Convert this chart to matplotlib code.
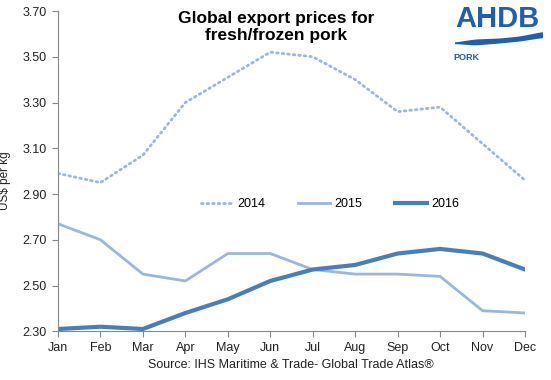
import numpy as np
import matplotlib as mpl
mpl.use('Agg')
from matplotlib import pyplot as plt

months = ["Jan", "Feb", "Mar", "Apr", "May", "Jun",
          "Jul", "Aug", "Sep", "Oct", "Nov", "Dec"]
p2014 = [2.99, 2.95, 3.07, 3.30, 3.41, 3.52, 3.50, 3.40, 3.26, 3.28, 3.12, 2.96]
p2015 = [2.77, 2.70, 2.55, 2.52, 2.64, 2.64, 2.57, 2.55, 2.55, 2.54, 2.39, 2.38]
p2016 = [2.31, 2.32, 2.31, 2.38, 2.44, 2.52, 2.57, 2.59, 2.64, 2.66, 2.64, 2.57]
yticks = [2.30, 2.50, 2.70, 2.90, 3.10, 3.30, 3.50, 3.70]


def main():
    mpl.rc('font', family=['Liberation Sans', 'DejaVu Sans'])

    fig = plt.figure(figsize=(5.51, 3.80), dpi=100)
    ax = fig.add_axes([58 / 551, 1 - 331.3 / 380, 467 / 551, 320.3 / 380])

    x = np.arange(len(months))
    ax.plot(x, p2014, color='#9db7e0', lw=2, linestyle=(0, (0.6, 1.4)),
            dash_capstyle='round', label='2014')
    ax.plot(x, p2015, color='#9bb7dc', lw=2, label='2015')
    ax.plot(x, p2016, color='#4a7ebb', lw=3, label='2016')

    ax.set_xlim(0, 11)
    ax.set_ylim(2.30, 3.70)
    ax.set_xticks(x)
    ax.set_xticklabels(months)
    ax.set_yticks(yticks)
    ax.set_yticklabels(["{:.2f}".format(v) for v in yticks])
    ax.tick_params(labelsize=9, colors='#222222', length=4, width=0.8,
                   color='#888888', pad=4)
    for s in ['top', 'right']:
        ax.spines[s].set_visible(False)
    for s in ['left', 'bottom']:
        ax.spines[s].set_color('#888888')
        ax.spines[s].set_linewidth(0.8)
    ax.set_ylabel("US$ per kg", fontsize=8.5, color='#222222')
    ax.yaxis.set_label_coords(-47 / 467, (331.3 - 181) / 320.3)
    ax.patch.set_alpha(0)

    ax.legend(loc='center', bbox_to_anchor=(330 / 551, 1 - 204 / 380),
              bbox_transform=fig.transFigure, ncol=3, frameon=False,
              fontsize=9, handlelength=2.6, handletextpad=0.3,
              columnspacing=2.6)

    fig.text(276 / 551, 1 - 27 / 380, "Global export prices for\nfresh/frozen pork",
             ha='center', va='center', fontsize=12.5, fontweight='bold',
             linespacing=1.1)
    fig.text(291 / 551, 1 - 365 / 380,
             "Source: IHS Maritime & Trade- Global Trade Atlas\u00ae",
             ha='center', va='center', fontsize=9, color='#222222')

    # logo
    fig.text(497 / 551, 1 - 19 / 380, "AHDB", ha='center', va='center',
             fontsize=21, color='#1f5fad', fontweight='bold')
    lx = np.linspace(455, 543, 80)
    top = np.interp(lx, [455, 475, 500, 520, 543], [42.5, 39.5, 38.5, 36.5, 32])
    bot = np.interp(lx, [455, 475, 500, 520, 543], [44, 45.5, 43.5, 41.5, 38])
    k = np.ones(9) / 9
    top = np.convolve(np.pad(top, 4, mode='edge'), k, mode='valid')
    bot = np.convolve(np.pad(bot, 4, mode='edge'), k, mode='valid')
    fig.patches.append(plt.Polygon(
        np.column_stack([np.concatenate([lx, lx[::-1]]) / 551,
                         1 - np.concatenate([top, bot[::-1]]) / 380]),
        closed=True, transform=fig.transFigure, color='#1f5fad', lw=0))
    fig.text(453 / 551, 1 - 57 / 380, "PORK", ha='left', va='center',
             fontsize=6.5, color='#1f5fad', fontweight='bold')

    plt.savefig("out.png", dpi=100)


if __name__ == "__main__":
    main()
